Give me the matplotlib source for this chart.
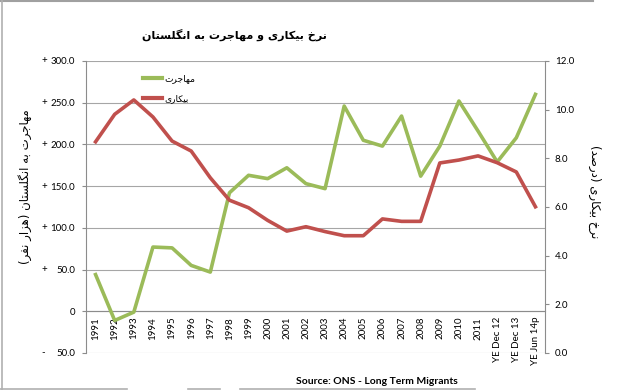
import matplotlib
matplotlib.use("Agg")
import matplotlib.pyplot as plt
from matplotlib.lines import Line2D

# data
categories = [str(y) for y in range(1991, 2012)] + ["YE Dec 12", "YE Dec 13", "YE Jun 14p"]
migration = [44, -11, -1, 77, 76, 55, 47, 142, 163, 159, 172, 153, 147,
             246, 205, 198, 234, 162, 198, 252, 216, 179, 208, 260]
unemployment = [8.68, 9.81, 10.4, 9.7, 8.71, 8.3, 7.2, 6.28, 5.97, 5.45, 5.01, 5.19, 4.99,
                4.82, 4.82, 5.51, 5.41, 5.41, 7.81, 7.93, 8.1, 7.82, 7.44, 6.01]
left_ticks = [-50, 0, 50, 100, 150, 200, 250, 300]
right_ticks = [0, 2, 4, 6, 8, 10, 12]

title = "نرخ بیکاری و مهاجرت به انگلستان"
label_mig = "مهاجرت"
label_unemp = "بیکاری"
ylabel_left = "مهاجرت به انگلستان (هزار نفر)"
ylabel_right = "نرخ بیکاری (درصد)"
source = "Source: ONS - Long Term Migrants"

GREEN = "#9bbb59"
RED = "#c0504d"
GRID = "#a6a6a6"
AXC = "#8c8c8c"

# persian letters -> (isolated, final, initial, medial)
FORMS = {
    'ا': ('\uFE8D', '\uFE8E', None, None),
    'ب': ('\uFE8F', '\uFE90', '\uFE91', '\uFE92'),
    'ت': ('\uFE95', '\uFE96', '\uFE97', '\uFE98'),
    'ج': ('\uFE9D', '\uFE9E', '\uFE9F', '\uFEA0'),
    'خ': ('\uFEA5', '\uFEA6', '\uFEA7', '\uFEA8'),
    'د': ('\uFEA9', '\uFEAA', None, None),
    'ر': ('\uFEAD', '\uFEAE', None, None),
    'ز': ('\uFEAF', '\uFEB0', None, None),
    'س': ('\uFEB1', '\uFEB2', '\uFEB3', '\uFEB4'),
    'ص': ('\uFEB9', '\uFEBA', '\uFEBB', '\uFEBC'),
    'ف': ('\uFED1', '\uFED2', '\uFED3', '\uFED4'),
    'ل': ('\uFEDD', '\uFEDE', '\uFEDF', '\uFEE0'),
    'م': ('\uFEE1', '\uFEE2', '\uFEE3', '\uFEE4'),
    'ن': ('\uFEE5', '\uFEE6', '\uFEE7', '\uFEE8'),
    'ه': ('\uFEE9', '\uFEEA', '\uFEEB', '\uFEEC'),
    'و': ('\uFEED', '\uFEEE', None, None),
    'ی': ('\uFBFC', '\uFBFD', '\uFBFE', '\uFBFF'),
    'ک': ('\uFB8E', '\uFB8F', '\uFB90', '\uFB91'),
    'گ': ('\uFB92', '\uFB93', '\uFB94', '\uFB95'),
}


def fa(s):
    # shape persian letters and put them in visual order
    out = []
    for i, c in enumerate(s):
        if c not in FORMS:
            out.append(c)
            continue
        prev = s[i - 1] if i > 0 else ''
        nxt = s[i + 1] if i + 1 < len(s) else ''
        jp = prev in FORMS and FORMS[prev][2] is not None
        jn = FORMS[c][2] is not None and nxt in FORMS
        iso, fin, ini, med = FORMS[c]
        if jp and jn:
            out.append(med)
        elif jp:
            out.append(fin)
        elif jn:
            out.append(ini)
        else:
            out.append(iso)
    vis = ''.join(out)[::-1]
    return vis.translate(str.maketrans({'(': ')', ')': '('}))


plt.rcParams['font.family'] = ['Lato', 'DejaVu Sans']
FA = ['DejaVu Sans']

fig = plt.figure(figsize=(6.43, 3.9), dpi=100)
ax = fig.add_axes([86 / 643, 1 - 353 / 390, 459 / 643, 292 / 390])
ax2 = ax.twinx()

x = list(range(len(categories)))
ax.plot(x, migration, color=GREEN, lw=2.6, solid_joinstyle='round', zorder=3)
ax2.plot(x, unemployment, color=RED, lw=2.6, solid_joinstyle='round', zorder=3)

ax.set_xlim(-0.5, len(categories) - 0.5)
ax.set_ylim(-50, 300)
ax2.set_ylim(0, 12)

ax.set_yticks(left_ticks)
ax.set_yticklabels(["0" if v == 0 else "%.1f" % abs(v) for v in left_ticks])
ax.tick_params(axis='y', direction='out', length=3, width=0.8, color=AXC, pad=5, labelsize=7)
for v in left_ticks:
    if v != 0:
        ax.text(-0.098, v, "+" if v > 0 else "-", transform=ax.get_yaxis_transform(),
                ha='left', va='center', fontsize=7)
ax.yaxis.grid(True, color=GRID, lw=0.8)
ax.set_axisbelow(True)

ax.set_xticks(x)
ax.set_xticklabels(categories)
ax.tick_params(axis='x', length=0, pad=4, labelsize=7, labelrotation=90)
for lbl in ax.get_xticklabels():
    lbl.set_va('top')
    lbl.set_ha('center')

ax2.set_yticks(right_ticks)
ax2.set_yticklabels(["%.1f" % v for v in right_ticks])
ax2.tick_params(axis='y', direction='out', length=3, width=0.8, color=AXC, pad=4, labelsize=7)

ax.spines['bottom'].set_position(('data', 0))
for s in ['top', 'right']:
    ax.spines[s].set_visible(False)
for s in ['top', 'left', 'bottom']:
    ax2.spines[s].set_visible(False)
ax.spines['left'].set_color(AXC)
ax.spines['bottom'].set_color(AXC)
ax2.spines['right'].set_color(AXC)

handles = [Line2D([], [], color=GREEN, lw=3), Line2D([], [], color=RED, lw=3)]
ax2.legend(handles, [fa(label_mig), fa(label_unemp)], loc='upper left',
           bbox_to_anchor=(0.124, 0.955), frameon=False, borderaxespad=0, borderpad=0,
           handlelength=2.1, handletextpad=0.3, labelspacing=1.25,
           prop={'family': FA, 'size': 6.5})

fig.text(234 / 643, 1 - 35 / 390, fa(title), family=FA, fontsize=8, fontweight='bold',
         ha='center', va='center')
fig.text(25 / 643, 1 - 187 / 390, fa(ylabel_left), family=FA, fontsize=8.5,
         rotation=90, ha='center', va='center')
fig.text(595 / 643, 1 - 192 / 390, fa(ylabel_right), family=FA, fontsize=8.5,
         rotation=270, ha='center', va='center')
fig.text(377 / 643, 1 - 381 / 390, source, fontsize=7.5, fontweight='bold',
         ha='center', va='center')

# screenshot frame
fig.add_artist(Line2D([0, 593 / 643], [1 - 1 / 390, 1 - 1 / 390], color='#a0a0a0', lw=1.5))
fig.add_artist(Line2D([2 / 643, 2 / 643], [0, 1], color='#b0b0b0', lw=1.2))
for a, b in [(0, 127), (188, 220), (240, 475)]:
    fig.add_artist(Line2D([a / 643, b / 643], [1 - 388.5 / 390] * 2, color='#b0b0b0', lw=1.2))

fig.savefig('out.png', dpi=100)
